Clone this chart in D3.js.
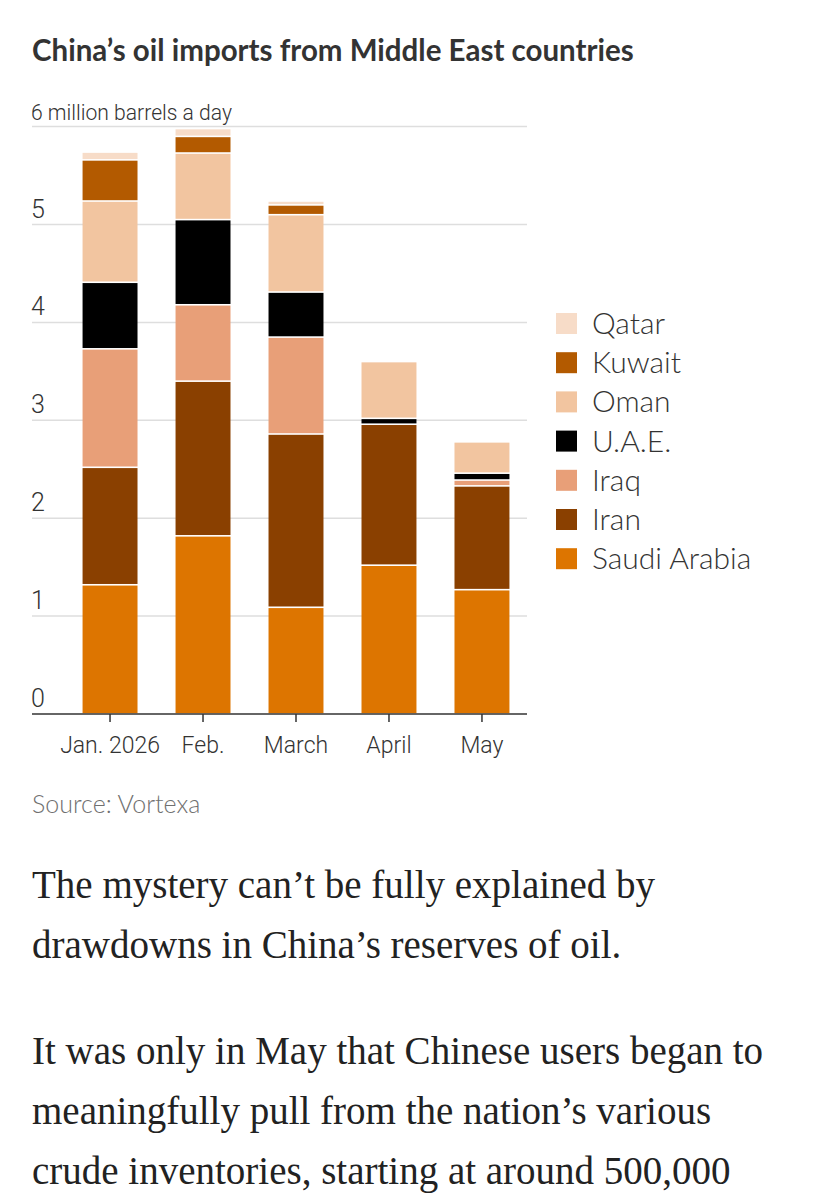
<!DOCTYPE html>
<html>
<head>
<meta charset="utf-8">
<script src="https://cdn.jsdelivr.net/npm/d3@7"></script>
<style>
  html, body { margin: 0; padding: 0; background: #fff; }
  svg { display: block; }
</style>
</head>
<body>
<svg id="chart" width="815" height="1200"></svg>
<script>
// ---- data ----
const months = ["Jan. 2026", "Feb.", "March", "April", "May"];
const countries = ["Saudi Arabia", "Iran", "Iraq", "U.A.E.", "Oman", "Kuwait", "Qatar"];
const saudiArabia = [1.32, 1.82, 1.09, 1.52, 1.27];
const iran        = [1.20, 1.58, 1.77, 1.44, 1.06];
const iraq        = [1.21, 0.78, 0.99, 0.00, 0.06];
const uae         = [0.68, 0.87, 0.46, 0.06, 0.07];
const oman        = [0.83, 0.68, 0.79, 0.58, 0.32];
const kuwait      = [0.42, 0.17, 0.10, 0.00, 0.00];
const qatar       = [0.08, 0.08, 0.04, 0.00, 0.00];
const yTicks = [0, 1, 2, 3, 4, 5, 6];
const colors = ["#dd7500", "#8a4000", "#e89f78", "#000000", "#f2c5a0", "#b35a00", "#f7dcc8"];

const series = [saudiArabia, iran, iraq, uae, oman, kuwait, qatar];
const table = months.map((m, i) => {
  const row = { month: m };
  countries.forEach((c, k) => { row[c] = series[k][i]; });
  return row;
});

const svg = d3.select("#chart");
const sans = "Lato, 'Open Sans', sans-serif";
const cond = "Roboto, sans-serif";

// title
svg.append("text")
  .attr("x", 32).attr("y", 61)
  .attr("font-family", sans).attr("font-weight", 700)
  .attr("font-size", 29.5).attr("fill", "#333")
  .text("China’s oil imports from Middle East countries");

const x = d3.scaleBand().domain(months).range([63.5, 528.5])
  .paddingInner(0.409).paddingOuter(0.205);
const y = d3.scaleLinear().domain([0, 6]).range([714, 126.6]);

// gridlines
svg.append("g").selectAll("line").data(yTicks.filter(d => d > 0)).join("line")
  .attr("x1", 32).attr("x2", 527)
  .attr("y1", d => y(d)).attr("y2", d => y(d))
  .attr("stroke", "#dedede").attr("stroke-width", 1.5);

// y tick labels
svg.append("g").selectAll("text").data(yTicks).join("text")
  .attr("x", 31).attr("y", d => y(d) - 7)
  .attr("font-family", cond).attr("font-weight", 300)
  .attr("font-size", d => d === 6 ? 21.5 : 25).attr("fill", "#333")
  .attr("textLength", d => d === 6 ? 201 : null)
  .attr("lengthAdjust", "spacingAndGlyphs")
  .text(d => d === 6 ? "6 million barrels a day" : d);

// bars
const stack = d3.stack().keys(countries)(table);
const layers = svg.append("g").selectAll("g").data(stack).join("g")
  .attr("fill", (d, i) => colors[i]);
layers.selectAll("rect").data(d => d.filter(s => s[1] - s[0] > 0)).join("rect")
  .attr("x", d => x(d.data.month))
  .attr("width", x.bandwidth())
  .attr("y", d => y(d[1]) + 0.8)
  .attr("height", d => Math.max(0.5, y(d[0]) - y(d[1]) - 1.6));

// x axis
const xAxis = svg.append("g").attr("transform", "translate(0,714)");
xAxis.append("line").attr("x1", 32).attr("x2", 527)
  .attr("stroke", "#333").attr("stroke-width", 1.5);
xAxis.selectAll("line.tick").data(months).join("line").attr("class", "tick")
  .attr("x1", d => x(d) + x.bandwidth() / 2).attr("x2", d => x(d) + x.bandwidth() / 2)
  .attr("y1", 0).attr("y2", 8)
  .attr("stroke", "#333").attr("stroke-width", 1.5);
xAxis.selectAll("text").data(months).join("text")
  .attr("x", d => x(d) + x.bandwidth() / 2).attr("y", 39)
  .attr("text-anchor", "middle")
  .attr("font-family", cond).attr("font-weight", 300)
  .attr("font-size", 23).attr("fill", "#333")
  .text(d => d);

// legend
const legendOrder = countries.map((c, i) => ({ c, i })).reverse();
const lg = svg.append("g").selectAll("g").data(legendOrder).join("g")
  .attr("transform", (d, k) => `translate(556,${313 + k * 39.2})`);
lg.append("rect").attr("width", 21).attr("height", 21)
  .attr("fill", d => colors[d.i]);
lg.append("text").attr("x", 36).attr("y", 21)
  .attr("font-family", sans).attr("font-weight", 300)
  .attr("font-size", 30).attr("fill", "#333")
  .text(d => d.c);

// source
svg.append("text").attr("x", 32).attr("y", 813)
  .attr("font-family", sans).attr("font-weight", 300)
  .attr("font-size", 25).attr("fill", "#707070")
  .text("Source: Vortexa");

// body text
const bodyLines = [
  ["The mystery can’t be fully explained by", 898],
  ["drawdowns in China’s reserves of oil.", 958],
  ["It was only in May that Chinese users began to", 1064],
  ["meaningfully pull from the nation’s various", 1124],
  ["crude inventories, starting at around 500,000", 1184]
];
svg.append("g").selectAll("text").data(bodyLines).join("text")
  .attr("x", 32).attr("y", d => d[1])
  .attr("font-family", "'Liberation Serif', 'DejaVu Serif', serif")
  .attr("font-size", 39).attr("fill", "#222")
  .text(d => d[0]);
</script>
</body>
</html>
